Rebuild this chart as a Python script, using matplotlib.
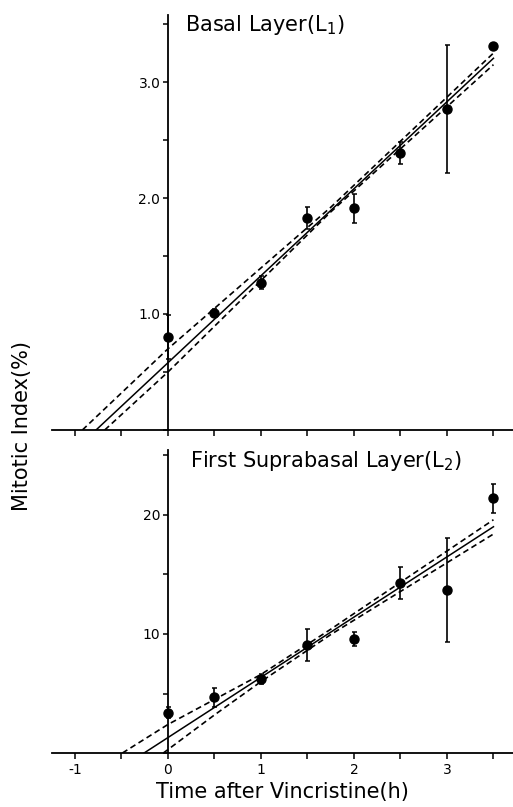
import matplotlib
matplotlib.use("Agg")
import matplotlib.pyplot as plt
from matplotlib.ticker import MultipleLocator, FixedLocator, FixedFormatter

# sampling times (h after vincristine)
time_h = [0, 0.5, 1.0, 1.5, 2.0, 2.5, 3.0, 3.5]

# basal layer L1
l1_mi = [0.80, 1.01, 1.27, 1.83, 1.91, 2.39, 2.77, 3.31]
l1_err = [0.19, 0.03, 0.055, 0.095, 0.125, 0.095, 0.55, 0.03]
l1_slope, l1_intercept = 0.75, 0.58
l1_band_hi_t = [-0.92, 0.0, 1.75, 3.5]
l1_band_hi = [0.0, 0.70, 1.92, 3.25]
l1_band_lo_t = [-0.68, 0.0, 1.75, 3.5]
l1_band_lo = [0.0, 0.50, 1.88, 3.15]

# first suprabasal layer L2
l2_mi = [3.4, 4.7, 6.2, 9.1, 9.6, 14.3, 13.7, 21.4]
l2_err = [0.45, 0.8, 0.4, 1.35, 0.6, 1.35, 4.35, 1.2]
l2_slope, l2_intercept = 5.06, 1.3
l2_band_hi_t = [-0.49, 0.0, 1.0, 1.75, 3.5]
l2_band_hi = [0.0, 2.4, 6.6, 10.4, 19.6]
l2_band_lo_t = [-0.05, 0.5, 1.0, 1.75, 3.5]
l2_band_lo = [0.0, 3.2, 6.0, 9.95, 18.4]

fit_end = 3.5

l1_yticks = [1.0, 2.0, 3.0]
l1_yticklabels = ["1.0", "2.0", "3.0"]
l2_yticks = [10, 20]
l2_yticklabels = ["10", "20"]
xticks = [-1, 0, 1, 2, 3]
xticklabels = ["-1", "0", "1", "2", "3"]


def style_axis(ax, ylim, yticks, yticklabels, yminor, show_xlabels):
    ax.set_xlim(-1.247, 3.71)
    ax.set_ylim(*ylim)
    for s in ["top", "right"]:
        ax.spines[s].set_visible(False)
    ax.spines["left"].set_position(("data", 0))
    ax.spines["left"].set_linewidth(1.3)
    ax.spines["bottom"].set_linewidth(1.3)

    ax.xaxis.set_major_locator(FixedLocator(xticks))
    ax.xaxis.set_minor_locator(MultipleLocator(0.5))
    if show_xlabels:
        ax.xaxis.set_major_formatter(FixedFormatter(xticklabels))
    else:
        ax.set_xticklabels([])
    ax.tick_params(axis="x", which="both", direction="out", length=4.5,
                   width=1.1, labelsize=10, pad=3)

    ax.yaxis.set_major_locator(FixedLocator(yticks))
    ax.yaxis.set_major_formatter(FixedFormatter(yticklabels))
    ax.yaxis.set_minor_locator(MultipleLocator(yminor))
    ax.tick_params(axis="y", which="both", direction="out", length=3.5,
                   width=1.1, labelsize=10, pad=2)


def draw_panel(ax, mi, err, slope, intercept, hi_t, hi, lo_t, lo):
    # regression line from its x-intercept up to the last sample
    t0 = -intercept / slope
    ax.plot([t0, fit_end], [0, intercept + slope * fit_end], color="black", lw=1.1)
    ax.plot(hi_t, hi, color="black", lw=1.2, ls=(0, (3.5, 2.2)))
    ax.plot(lo_t, lo, color="black", lw=1.2, ls=(0, (3.5, 2.2)))
    ax.errorbar(time_h, mi, yerr=err, fmt="o", color="black", ms=6.5,
                capsize=1.8, elinewidth=1.2, capthick=1.1, zorder=5)


fig = plt.figure(figsize=(5.13, 8.07), dpi=100)
plt.rcParams["font.family"] = "DejaVu Sans"

ax1 = fig.add_axes([0.1014, 0.4672, 0.8986, 0.5142])
ax2 = fig.add_axes([0.1014, 0.0669, 0.8986, 0.3755])

draw_panel(ax1, l1_mi, l1_err, l1_slope, l1_intercept,
           l1_band_hi_t, l1_band_hi, l1_band_lo_t, l1_band_lo)
style_axis(ax1, (0, 3.578), l1_yticks, l1_yticklabels, 0.5, False)
ax1.text(0.18, 3.49, "Basal Layer(L$_1$)", fontsize=15, va="center", ha="left")

draw_panel(ax2, l2_mi, l2_err, l2_slope, l2_intercept,
           l2_band_hi_t, l2_band_hi, l2_band_lo_t, l2_band_lo)
style_axis(ax2, (0, 25.46), l2_yticks, l2_yticklabels, 5, True)
ax2.text(0.24, 24.5, "First Suprabasal Layer(L$_2$)", fontsize=15,
         va="center", ha="left")

fig.text(22 / 513, 1 - 426 / 807, "Mitotic Index(%)", rotation=90,
         fontsize=15, va="center", ha="center")
fig.text(282 / 513, 1 - 792 / 807, "Time after Vincristine(h)",
         fontsize=15, va="center", ha="center")

plt.savefig("out.png", dpi=100)
